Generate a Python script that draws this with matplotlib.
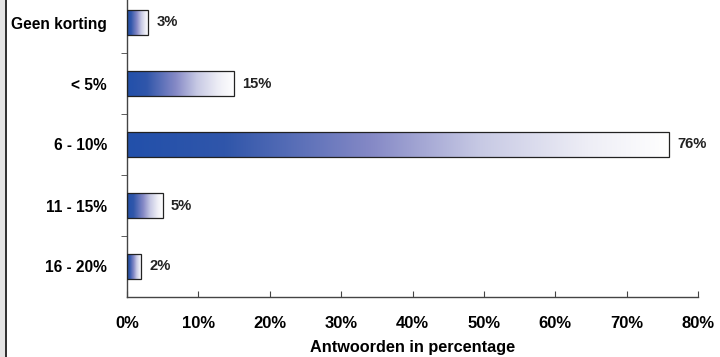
import numpy as np
import matplotlib.pyplot as plt
from matplotlib.colors import LinearSegmentedColormap
from matplotlib.patches import Rectangle

plt.rcParams['font.family'] = ['Liberation Sans', 'DejaVu Sans']
plt.rcParams['font.weight'] = 'bold'

# kortingsklassen en het aandeel antwoorden (in %)
categories = ['Geen korting', '< 5%', '6 - 10%', '11 - 15%', '16 - 20%']
values = [3, 15, 76, 5, 2]
xticks = [0, 10, 20, 30, 40, 50, 60, 70, 80]

# verloop van donkerblauw naar wit
blue_white = LinearSegmentedColormap.from_list('bw', [
    (0.0, '#2250aa'), (0.18, '#3056aa'), (0.45, '#8589c6'),
    (0.65, '#c7c9e4'), (0.85, '#eeeef6'), (1.0, '#ffffff')])
grad = np.linspace(0, 1, 256).reshape(1, -1)

fig = plt.figure(figsize=(7.2, 3.57), dpi=100)
# plot area loopt bovenaan iets buiten de figuur
ax = fig.add_axes([127 / 720, 60 / 357, 571 / 720, 305 / 357])

ypos = np.arange(len(categories))
bar_h = 0.42
for y, v in zip(ypos, values):
    rect = Rectangle((0, y - bar_h / 2), v, bar_h, facecolor='none',
                     edgecolor='#222222', linewidth=0.9, zorder=3)
    ax.add_patch(rect)
    img = ax.imshow(grad, cmap=blue_white, aspect='auto', zorder=2,
                    extent=(0, v, y - bar_h / 2, y + bar_h / 2))
    img.set_clip_path(rect)
    ax.text(v + 1.1, y, f'{v}%', va='center', ha='left', fontsize=10.6,
            fontweight='bold', color='#222222')

ax.set_xlim(0, 80)
ax.set_ylim(len(categories) - 0.5, -0.5)
ax.set_xticks(xticks)
ax.set_xticklabels([f'{t}%' for t in xticks], fontsize=12, fontweight='bold')
ax.set_yticks(ypos)
ax.set_yticklabels(categories, fontsize=11.2, fontweight='bold')
ax.set_yticks(np.arange(len(categories) - 1) + 0.5, minor=True)
ax.tick_params(axis='y', which='major', length=0, pad=14.5)
ax.tick_params(axis='y', which='minor', length=4, direction='out', color='#444444')
ax.tick_params(axis='x', length=4, direction='in', pad=14, color='#444444')
for s in ['top', 'right']:
    ax.spines[s].set_visible(False)
for s in ['left', 'bottom']:
    ax.spines[s].set_color('#444444')
    ax.spines[s].set_linewidth(1.0)
ax.set_xlabel('Antwoorden in percentage', fontsize=11.7, fontweight='bold', labelpad=6.5)

# grijze rand links
fig.patches.append(Rectangle((0, 0), 5 / 720, 1, transform=fig.transFigure,
                             facecolor='#e4e4e4', edgecolor='none'))
fig.patches.append(Rectangle((5 / 720, 0), 1.5 / 720, 1, transform=fig.transFigure,
                             facecolor='#333333', edgecolor='none'))

fig.savefig('out.png', dpi=100)
